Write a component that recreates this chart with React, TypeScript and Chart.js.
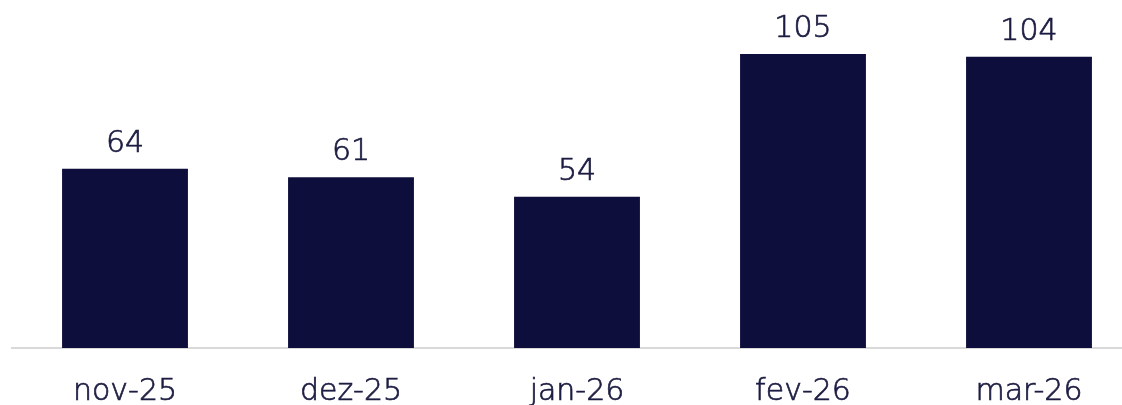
import React, { useEffect, useRef } from "react";
import { Chart, registerables } from "chart.js";

Chart.register(...registerables);

const categories = ["nov-25", "dez-25", "jan-26", "fev-26", "mar-26"];
const values = [64, 61, 54, 105, 104];

const BAR_COLOR = "#0e0e3c";
const TEXT_COLOR = "#1c1c42";
const FONT_FAMILY = "'DejaVu Sans', sans-serif";
const FONT_WEIGHT = 200;
const STROKE = 0.7;

const valueLabels = {
  id: "valueLabels",
  afterDatasetsDraw(chart: any) {
    const ctx = chart.ctx;
    const meta = chart.getDatasetMeta(0);
    ctx.save();
    ctx.font = `${FONT_WEIGHT} 30px ${FONT_FAMILY}`;
    ctx.fillStyle = TEXT_COLOR;
    ctx.strokeStyle = TEXT_COLOR;
    ctx.lineWidth = STROKE;
    ctx.textAlign = "center";
    ctx.textBaseline = "alphabetic";
    meta.data.forEach((el: any, i: number) => {
      ctx.fillText(String(values[i]), el.x, el.y - 17);
      ctx.strokeText(String(values[i]), el.x, el.y - 17);
    });
    ctx.restore();
  },
};

export default function App() {
  const ref = useRef<HTMLCanvasElement | null>(null);

  useEffect(() => {
    document.body.style.margin = "0";
    document.body.style.overflow = "hidden";
    const chart = new Chart(ref.current as HTMLCanvasElement, {
      type: "bar",
      data: {
        labels: categories,
        datasets: [
          {
            data: values,
            backgroundColor: BAR_COLOR,
            categoryPercentage: 1,
            barPercentage: 0.557,
          },
        ],
      },
      options: {
        responsive: false,
        animation: false,
        layout: { padding: { left: 12, right: 8, top: 12, bottom: -23 } },
        plugins: { legend: { display: false }, tooltip: { enabled: false } },
        scales: {
          x: {
            grid: { display: false },
            border: { display: true, color: "#d9d9d9", width: 2 },
            ticks: {
              color: TEXT_COLOR,
              textStrokeColor: TEXT_COLOR,
              textStrokeWidth: STROKE,
              padding: 21,
              font: { family: FONT_FAMILY, size: 30, lineHeight: 1, weight: FONT_WEIGHT as any },
              maxRotation: 0,
            },
          },
          y: {
            display: false,
            min: 0,
            max: 120,
          },
        },
      },
      plugins: [valueLabels],
    });
    return () => chart.destroy();
  }, []);

  return (
    <div style={{ position: "fixed", left: 0, top: 0, width: 1122, height: 405, overflow: "hidden", background: "#fff" }}>
      <canvas ref={ref} width={1150} height={405} style={{ display: "block" }} />
    </div>
  );
}
